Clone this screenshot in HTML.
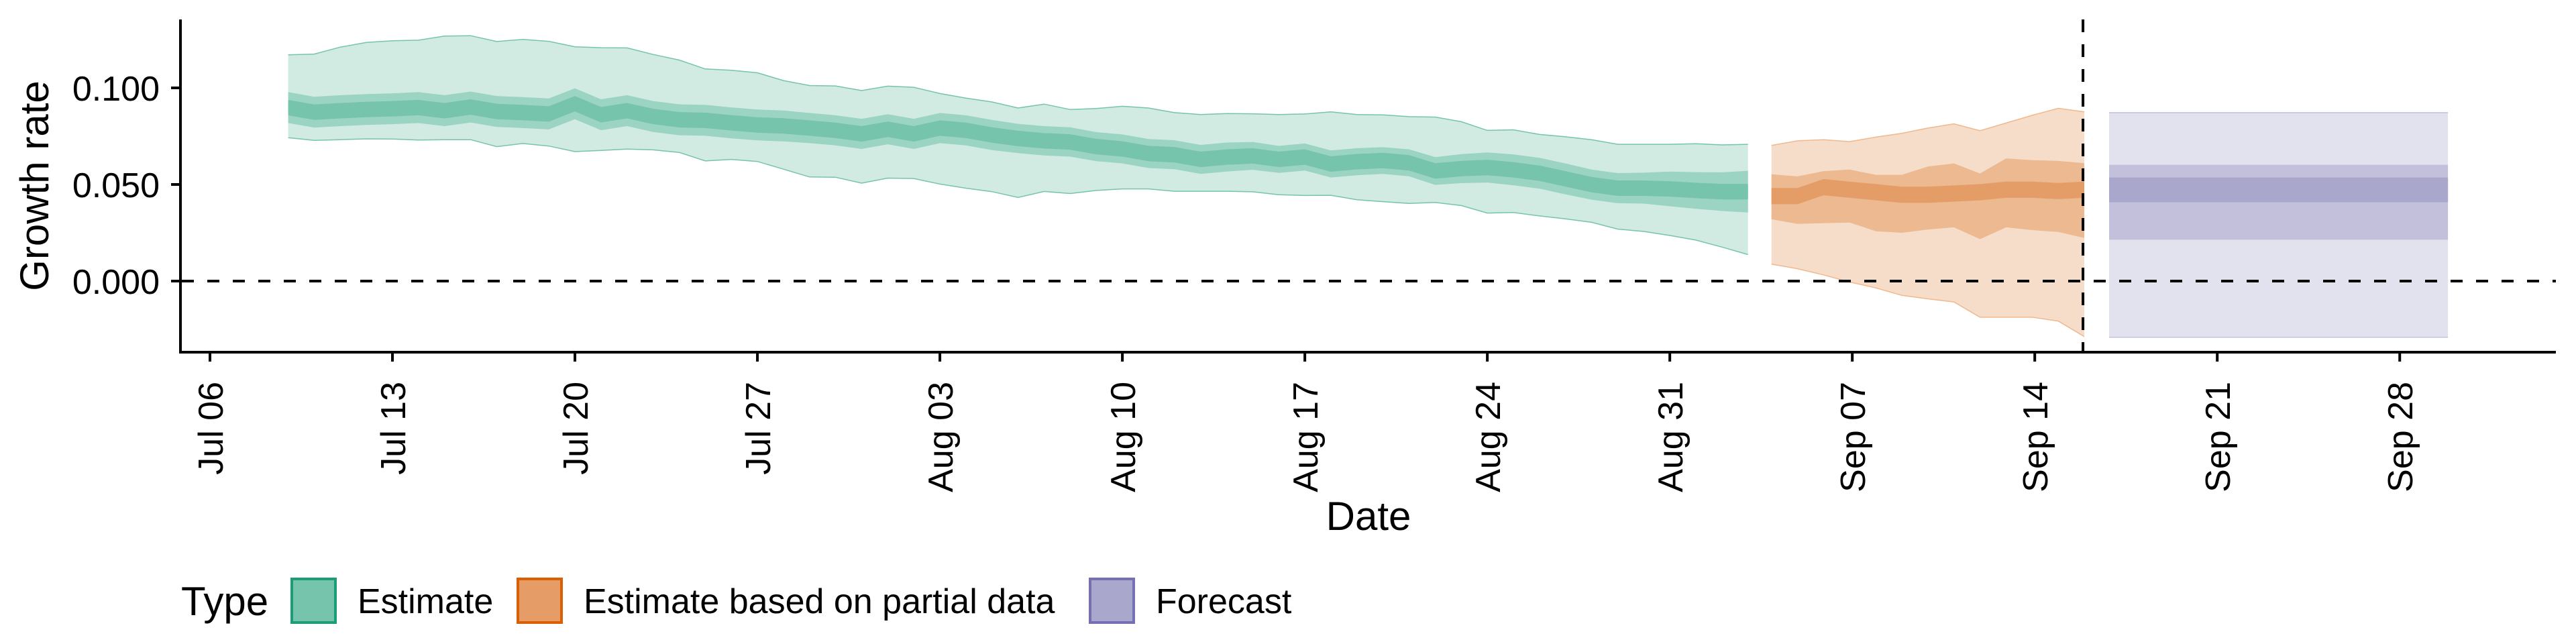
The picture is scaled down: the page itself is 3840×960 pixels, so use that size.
<!DOCTYPE html>
<html><head><meta charset="utf-8">
<style>
html,body{margin:0;padding:0;background:#fff;}
svg{display:block;font-family:"Liberation Sans",sans-serif;}
</style></head>
<body>
<svg id="chart" width="3840" height="960" viewBox="0 0 3840 960" xmlns="http://www.w3.org/2000/svg">
  <g id="bands"></g>
  <g id="axes"></g>
  <text x="0" y="0" transform="translate(72,277) rotate(-90)" text-anchor="middle" font-size="60">Growth rate</text>
  <text x="2040" y="790" text-anchor="middle" font-size="60">Date</text>
  <g>
    <text x="270" y="917" font-size="60">Type</text>
    <g>
      <rect x="435" y="863" width="65" height="65" fill="#76c4ab" stroke="#1b9e77" stroke-width="4"/>
      <text x="533" y="914" font-size="52">Estimate</text>
    </g>
    <g>
      <rect x="772" y="863" width="65" height="65" fill="#e69c67" stroke="#d95f02" stroke-width="4"/>
      <text x="870" y="914" font-size="52">Estimate based on partial data</text>
    </g>
    <g>
      <rect x="1625" y="863" width="65" height="65" fill="#aaa7cd" stroke="#7570b3" stroke-width="4"/>
      <text x="1723" y="914" font-size="52">Forecast</text>
    </g>
  </g>
</svg>
<script>
// ---- data (days since Jul 06) ----
const estDays0 = 3;
const estUpper90 = [.1171,.1175,.1211,.1235,.1244,.1247,.1268,.1270,.1240,.1251,.1241,.1213,.1208,.1207,.1173,.1144,.1098,.1091,.1078,.1038,.1012,
 .1010,.0986,.1009,.1003,.0971,.0947,.0927,.0896,.0916,.0888,.0893,.0905,.0896,.0872,.0862,.0867,.0866,.0862,.0865,.0876,.0862,.0860,.0851,.0849,.0825,.0780,.0783,.0759,.0747,.0732,.0708,.0708,.0708,.0711,.0705,.0708];
const estLower90 = [.0742,.0728,.0732,.0736,.0735,.0730,.0732,.0732,.0696,.0712,.0699,.0670,.0676,.0683,.0679,.0666,.0622,.0630,.0619,.0579,.0539,
 .0537,.0507,.0533,.0531,.0502,.0481,.0463,.0433,.0464,.0453,.0469,.0477,.0477,.0465,.0465,.0465,.0462,.0447,.0443,.0444,.0421,.0411,.0402,.0407,.0391,.0352,.0355,.0337,.0322,.0304,.0269,.0257,.0236,.0212,.0176,.0137];
const estMedian = [.0898,.0874,.0882,.0888,.0892,.0898,.0882,.0901,.0878,.0872,.0865,.0918,.0861,.0882,.0852,.0835,.0832,.0819,.0808,.0803,.0792,
 .0780,.0762,.0786,.0762,.0792,.0780,.0756,.0738,.0726,.0720,.0696,.0684,.0660,.0654,.0630,.0642,.0648,.0630,.0642,.0606,.0618,.0624,.0612,.0570,.0582,.0588,.0576,.0558,.0529,.0499,.0481,.0481,.0477,.0469,.0463,.0463];
const estHalf50 = [.0080,.0080,.0080,.0080,.0080,.0080,.0080,.0080,.0080,.0080,.0080,.0080,.0080,.0080,.0080,.0080,.0080,.0080,.0080,.0080,.0078,
 .0078,.0078,.0078,.0078,.0078,.0078,.0078,.0076,.0076,.0076,.0075,.0075,.0075,.0075,.0075,.0075,.0072,.0070,.0070,.0070,.0070,.0069,.0070,.0072,.0075,.0078,.0080,.0080,.0080,.0078,.0078,.0080,.0090,.0095,.0100,.0108];
const estHalf20 = 0.0040;

const partDays0 = 59.9;
const partUpper90 = [.0702,.0726,.0732,.0722,.0745,.0765,.0792,.0814,.0778,.0818,.0858,.0894,.0876];
const partLower90 = [.0088,.0064,.0032,-.0005,-.0035,-.0074,-.0092,-.0108,-.0187,-.0187,-.0187,-.0207,-.0287];
const partUpper50 = [.0553,.0542,.0569,.0577,.0550,.0550,.0593,.0609,.0557,.0635,.0626,.0622,.0610];
const partLower50 = [.0320,.0296,.0300,.0303,.0258,.0250,.0267,.0278,.0217,.0278,.0264,.0254,.0223];
const partMedian = [.0440,.0440,.0486,.0473,.0460,.0447,.0447,.0453,.0460,.0473,.0473,.0466,.0473];
const partHalf20 = 0.0042;

const fcDays = [72.85, 85.85];
const fcUpper90 = [.0872, .0872];
const fcLower90 = [-.0291, -.0291];
const fcUpper50 = [.0602, .0602];
const fcLower50 = [.0214, .0214];
const fcUpper20 = [.0536, .0536];
const fcLower20 = [.0408, .0408];

const tickDays = [0,7,14,21,28,35,42,49,56,63,70,77,84];
const tickLabels = ["Jul 06","Jul 13","Jul 20","Jul 27","Aug 03","Aug 10","Aug 17","Aug 24","Aug 31","Sep 07","Sep 14","Sep 21","Sep 28"];
const yTicks = [0, 0.05, 0.1];
const yTickLabels = ["0.000","0.050","0.100"];
const vlineDay = 71.85;

// ---- scales ----
const X0 = 313, PXDAY = 38.86, Y0 = 419, PXUNIT = 2880;
function xs(d){ return X0 + d*PXDAY; }
function ys(v){ return Y0 - v*PXUNIT; }
const NS = "http://www.w3.org/2000/svg";
const bands = document.getElementById('bands');
const axes = document.getElementById('axes');

function ribbon(days, up, lo, fill, name, strokeCol){
  let top = days.map((d,i)=>xs(d).toFixed(1)+','+ys(up[i]).toFixed(1));
  let bot = days.map((d,i)=>xs(d).toFixed(1)+','+ys(lo[i]).toFixed(1)).reverse();
  const p = document.createElementNS(NS,'polygon');
  p.setAttribute('points', top.concat(bot).join(' '));
  p.setAttribute('fill', fill);
  
  
  bands.appendChild(p);
  if(strokeCol){
    [up, lo].forEach(arr=>{
      const l = document.createElementNS(NS,'polyline');
      l.setAttribute('points', days.map((d,i)=>xs(d).toFixed(1)+','+ys(arr[i]).toFixed(1)).join(' '));
      l.setAttribute('fill','none');
      l.setAttribute('stroke', strokeCol);
      l.setAttribute('stroke-width','1.5');
      
      
      bands.appendChild(l);
    });
  }
}

const estDays = estMedian.map((_,i)=>estDays0+i);
ribbon(estDays, estUpper90, estLower90, '#d2ebe2', 'estimate-band-90', '#76c4ab');
ribbon(estDays, estMedian.map((m,i)=>m+estHalf50[i]), estMedian.map((m,i)=>m-estHalf50[i]), '#9bd4c3', 'estimate-band-50');
ribbon(estDays, estMedian.map(m=>m+estHalf20), estMedian.map(m=>m-estHalf20), '#76c4ab', 'estimate-band-20');
const partDays = partMedian.map((_,i)=>partDays0+i);
ribbon(partDays, partUpper90, partLower90, '#f6ddca', 'partial-band-90', '#f0b88c');
ribbon(partDays, partUpper50, partLower50, '#ecb990', 'partial-band-50');
ribbon(partDays, partMedian.map(m=>m+partHalf20), partMedian.map(m=>m-partHalf20), '#e59d67', 'partial-band-20');
ribbon(fcDays, fcUpper90, fcLower90, '#e2e2ee', 'forecast-band-90', '#c3c0dc');
ribbon(fcDays, fcUpper50, fcLower50, '#c3c0dc', 'forecast-band-50');
ribbon(fcDays, fcUpper20, fcLower20, '#aaa7cd', 'forecast-band-20');

function line(x1,y1,x2,y2,w,dash,name){
  const l = document.createElementNS(NS,'line');
  l.setAttribute('x1',x1); l.setAttribute('y1',y1); l.setAttribute('x2',x2); l.setAttribute('y2',y2);
  l.setAttribute('stroke','#000'); l.setAttribute('stroke-width',w);
  if(dash) l.setAttribute('stroke-dasharray',dash);
  
  
  axes.appendChild(l);
}
line(269, 29, 269, 527, 4, null, 'y-axis-line');
line(267, 525, 3810, 525, 4, null, 'x-axis-line');
line(271, ys(0), 3810, ys(0), 4, '18 20', 'zero-reference-line');
line(xs(vlineDay), 29, xs(vlineDay), 523, 4, '19 18', 'forecast-start-line');

yTicks.forEach((v,i)=>{
  line(255, ys(v), 269, ys(v), 4, null, 'y-tick');
  const t = document.createElementNS(NS,'text');
  t.setAttribute('x', 238); t.setAttribute('y', ys(v)+19);
  t.setAttribute('text-anchor','end'); t.setAttribute('font-size','52');
  t.textContent = yTickLabels[i];
  
  
  axes.appendChild(t);
});
tickDays.forEach((d,i)=>{
  const x = xs(d);
  line(x, 525, x, 539, 4, null, 'x-tick');
  const t = document.createElementNS(NS,'text');
  t.setAttribute('transform', 'translate('+(x+19).toFixed(1)+',569) rotate(-90)');
  t.setAttribute('text-anchor','end'); t.setAttribute('font-size','52');
  t.textContent = tickLabels[i];
  
  
  axes.appendChild(t);
});
</script>
</body></html>
